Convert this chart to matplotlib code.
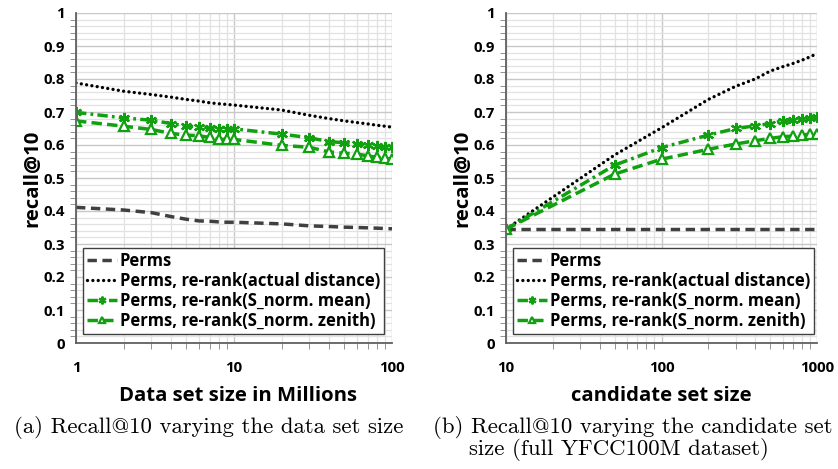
import matplotlib
matplotlib.use("Agg")
import matplotlib.pyplot as plt
from matplotlib.ticker import MultipleLocator, NullFormatter

# ---- data ----
labels = ["Perms", "Perms, re-rank(actual distance)",
          "Perms, re-rank(S_norm. mean)", "Perms, re-rank(S_norm. zenith)"]

# (a) varying data set size (millions)
size_x = [1, 2, 3, 4, 5, 6, 7, 8, 9, 10, 20, 30, 40, 50, 60, 70, 80, 90, 100]
a_perms = [0.411, 0.403, 0.395, 0.383, 0.375, 0.370, 0.369, 0.367, 0.366, 0.366,
           0.361, 0.355, 0.353, 0.351, 0.350, 0.349, 0.348, 0.347, 0.346]
a_actual = [0.788, 0.763, 0.753, 0.745, 0.738, 0.733, 0.728, 0.725, 0.723, 0.721,
            0.706, 0.690, 0.680, 0.673, 0.668, 0.664, 0.660, 0.657, 0.654]
a_mean = [0.699, 0.682, 0.675, 0.665, 0.657, 0.655, 0.652, 0.649, 0.649, 0.649,
          0.633, 0.622, 0.610, 0.607, 0.603, 0.600, 0.598, 0.595, 0.593]
a_zenith = [0.673, 0.657, 0.647, 0.635, 0.630, 0.628, 0.623, 0.617, 0.617, 0.617,
            0.599, 0.593, 0.579, 0.575, 0.573, 0.567, 0.563, 0.560, 0.557]

# (b) varying candidate set size
cand_x = [10, 50, 100, 200, 300, 400, 500, 600, 700, 800, 900, 1000]
b_perms = [0.346] * 12
b_actual = [0.345, 0.570, 0.652, 0.738, 0.778, 0.800, 0.824, 0.837, 0.847, 0.857, 0.867, 0.877]
b_mean = [0.345, 0.539, 0.592, 0.630, 0.650, 0.658, 0.665, 0.673, 0.677, 0.680, 0.683, 0.684]
b_zenith = [0.345, 0.512, 0.557, 0.587, 0.603, 0.613, 0.620, 0.625, 0.627, 0.630, 0.632, 0.632]

y_ticks = [0, 0.1, 0.2, 0.3, 0.4, 0.5, 0.6, 0.7, 0.8, 0.9, 1]
y_ticklabels = ["0", "0.1", "0.2", "0.3", "0.4", "0.5", "0.6", "0.7", "0.8", "0.9", "1"]

plt.rcParams['font.family'] = ['Open Sans', 'DejaVu Sans']
plt.rcParams['font.weight'] = 'bold'

GREEN = "#10A010"
GRAY = "#404040"

fig = plt.figure(figsize=(8.38, 4.69), dpi=100)
axA = fig.add_axes([76/838, 1-343/469, 316/838, 330/469])
axB = fig.add_axes([506/838, 1-343/469, 311/838, 330/469])


def style(ax, xmin, xmax, xticks, xlabels, xlabel, xlabel_x):
    ax.set_xscale('log')
    ax.set_xlim(xmin, xmax)
    ax.set_ylim(0, 1)
    ax.set_xticks(xticks)
    ax.set_xticklabels(xlabels)
    ax.xaxis.set_minor_formatter(NullFormatter())
    ax.set_yticks(y_ticks)
    ax.set_yticklabels(y_ticklabels)
    ax.yaxis.set_minor_locator(MultipleLocator(0.02))
    ax.grid(True, which='major', color='#c8c8c8', lw=1.0)
    ax.grid(True, which='minor', color='#e2e2e2', lw=0.9)
    ax.set_axisbelow(True)
    for s in ['top', 'right']:
        ax.spines[s].set_visible(False)
    for s in ['left', 'bottom']:
        ax.spines[s].set_color('#606060')
        ax.spines[s].set_linewidth(1.3)
    ax.tick_params(axis='both', which='major', length=0, labelsize=10.8, pad=8, colors='black')
    ax.tick_params(axis='y', which='minor', length=4, direction='out', color='#808080')
    ax.tick_params(axis='x', which='minor', length=4, direction='out', color='#808080')
    ax.tick_params(axis='x', which='major', pad=13)
    for t in ax.get_xticklabels() + ax.get_yticklabels():
        t.set_fontweight('bold')
    ax.set_xlabel(xlabel, fontsize=14.6, fontweight='bold')
    ax.xaxis.set_label_coords(xlabel_x, -(386 - 343) / 330)
    ax.set_ylabel("recall@10", fontsize=14.6, fontweight='bold', labelpad=1)


def draw(ax, xs, perms, actual, mean, zenith):
    l1, = ax.plot(xs, perms, color=GRAY, lw=2.5, linestyle=(0, (2.7, 1.6)))
    l2, = ax.plot(xs, actual, color='black', lw=2.4, linestyle=(0, (0.01, 1.6)),
                  dash_capstyle='round')
    l3, = ax.plot(xs, mean, color=GREEN, lw=2.5, linestyle=(0, (3, 1.2, 0.8, 1.2)),
                  marker=(6, 2, 0), markersize=8, markeredgewidth=1.6,
                  markeredgecolor=GREEN)
    l4, = ax.plot(xs, zenith, color=GREEN, lw=2.5, linestyle=(0, (3, 1.5)),
                  marker='^', markersize=7, markerfacecolor='white',
                  markeredgewidth=1.6, markeredgecolor=GREEN)
    leg = ax.legend([l1, l2, l3, l4], labels, loc='lower left',
                    bbox_to_anchor=(0.022, 0.027), fontsize=12, frameon=True,
                    fancybox=False, edgecolor='#404040', framealpha=1,
                    handlelength=1.8, handletextpad=0.15, labelspacing=0.12,
                    borderpad=0.25, borderaxespad=0.0, markerscale=0.7)
    leg.get_frame().set_linewidth(1.0)
    for t in leg.get_texts():
        t.set_fontweight('bold')


draw(axA, size_x, a_perms, a_actual, a_mean, a_zenith)
style(axA, 1, 100, [1, 10, 100], ["1", "10", "100"], "Data set size in Millions",
      (238 - 76) / 316)

draw(axB, cand_x, b_perms, b_actual, b_mean, b_zenith)
style(axB, 10, 1000, [10, 100, 1000], ["10", "100", "1000"], "candidate set size",
      (661 - 506) / 311)

cap = dict(fontsize=16.4, family=['cmr10', 'DejaVu Serif'], fontweight='normal',
           ha='center', va='center')
fig.text(209/838, 1-427/469, "(a) Recall@10 varying the data set size", **cap)
fig.text(633/838, 1-427/469, "(b) Recall@10 varying the candidate set", **cap)
fig.text(619/838, 1-449/469, "size (full YFCC100M dataset)", **cap)

fig.savefig("out.png", dpi=100)
